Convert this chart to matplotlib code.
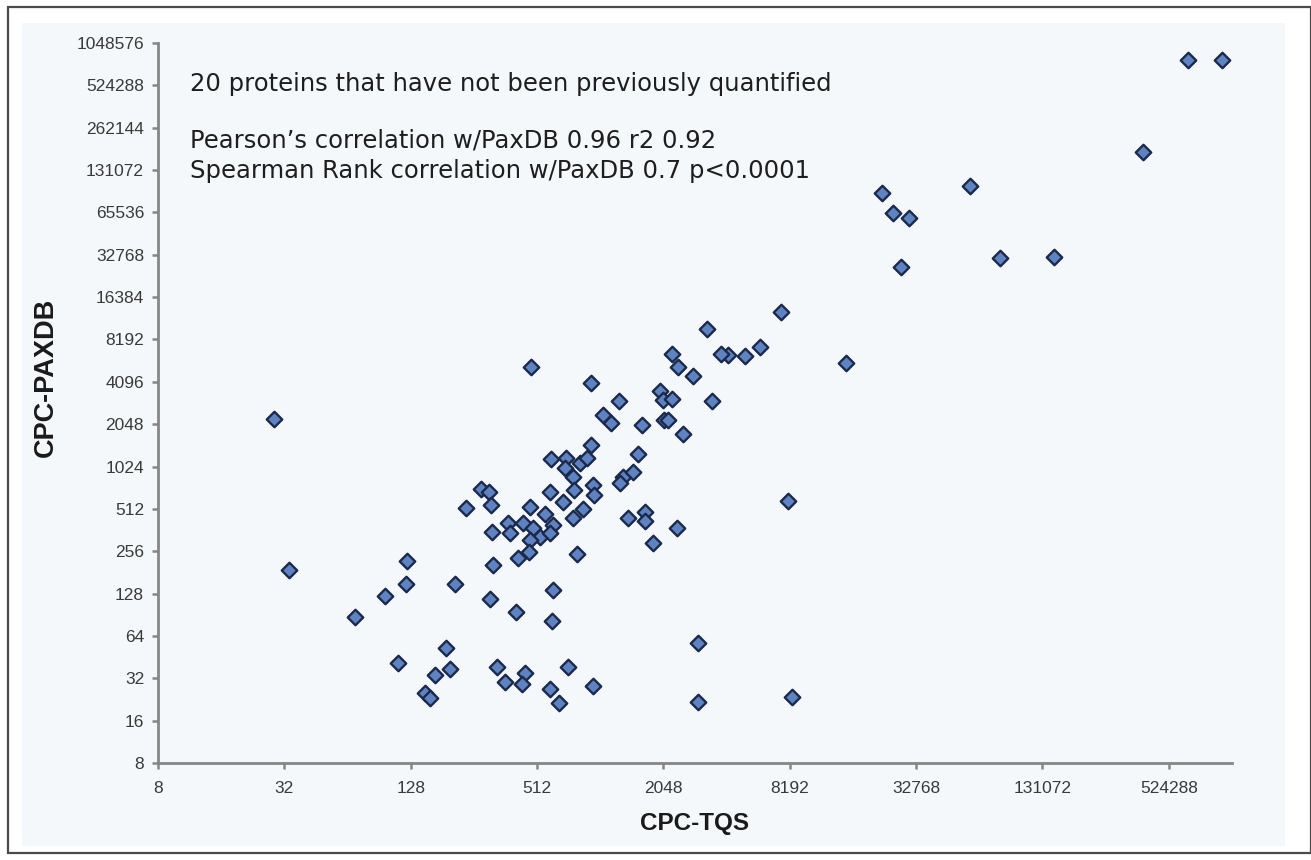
import matplotlib
matplotlib.use("Agg")
import matplotlib.pyplot as plt
from matplotlib.patches import Rectangle


# CPC-TQS (x) and CPC-PAXDB (y), one pair per protein
TQS = [
    650000, 938000, 394500, 59500, 22540, 25360, 30150, 27740, 81850, 148500,
    15180, 7435, 5900, 5010, 4150, 3850, 3300, 2247, 2400, 2830,
    3480, 1965, 2034, 2247, 2060, 2150, 1617, 2534, 1255, 1054,
    1150, 924, 478, 1542, 1314, 1464, 1270, 924, 595, 702,
    694, 819, 884, 758, 766, 944, 955, 276, 302, 308,
    234, 589, 679, 473, 558, 846, 758, 372, 438, 380,
    312, 489, 528, 609, 589, 473, 468, 792, 415, 315,
    1387, 1672, 1672, 2370, 1822, 8010, 609, 305, 406, 602,
    122.8, 121.4, 96.5, 69.4, 208, 33.7, 28.5, 188, 111, 197,
    167, 150, 158, 329, 448, 360, 433, 718, 589, 944,
    650, 2985, 2985, 8380,
]
PAXDB = [
    795000, 795000, 176600, 100700, 90200, 65100, 59900, 26800, 31000, 31660,
    5575, 12850, 7235, 6255, 6350, 6470, 9750, 6470, 5220, 4510,
    2998, 3517, 3041, 3100, 2195, 2195, 2020, 1746, 2998, 2382,
    2090, 4015, 5220, 1260, 863, 936, 783, 1458, 1160, 1177,
    1000, 1085, 1177, 863, 697, 757, 643, 709, 675, 546,
    519, 675, 573, 528, 471, 511, 441, 406, 406, 345,
    351, 375, 323, 393, 345, 308, 253, 245, 229, 204,
    441, 487, 420, 375, 293, 583, 136, 117, 94.7, 81.7,
    218, 150, 123, 87.2, 150, 188, 2230, 52.5, 41.1, 37.3,
    33.8, 25.2, 23.2, 38.5, 34.9, 30.1, 29.1, 38.5, 26.9, 28.2,
    21.4, 57, 21.7, 23.6,
]

X_TICKS = [8, 32, 128, 512, 2048, 8192, 32768, 131072, 524288]
Y_TICKS = [8, 16, 32, 64, 128, 256, 512, 1024, 2048, 4096, 8192, 16384,
           32768, 65536, 131072, 262144, 524288, 1048576]

NOTE_LINES = [
    "20 proteins that have not been previously quantified",
    "Pearson\u2019s correlation w/PaxDB 0.96 r2 0.92",
    "Spearman Rank correlation w/PaxDB 0.7 p<0.0001",
]

W, H = 1311, 860
AXIS_GREY = "#868686"


def main():
    fig = plt.figure(figsize=(W / 100, H / 100), dpi=100)
    fig.patch.set_facecolor("white")

    # light panel and outer frame, kept behind the axes
    fig.patches.append(Rectangle((22 / W, 1 - 846 / H), (1285 - 22) / W, (846 - 23) / H,
                                 transform=fig.transFigure, facecolor="#f4f8fa",
                                 edgecolor="none", zorder=-2))
    fig.patches.append(Rectangle((8 / W, 1 - 853 / H), (1311 - 8) / W, (853 - 7) / H,
                                 transform=fig.transFigure, facecolor="none",
                                 edgecolor="#4a4a4a", linewidth=1.6, zorder=-1))

    ax = fig.add_axes([158 / W, 1 - 763 / H, (1232 - 158) / W, (763 - 43) / H])
    ax.set_facecolor("none")

    ax.scatter(TQS, PAXDB, marker="D", s=62, facecolor="#5f82c0",
               edgecolor="#1b2a4c", linewidth=1.7, zorder=3, clip_on=False)

    ax.set_xscale("log", base=2)
    ax.set_yscale("log", base=2)
    ax.set_xlim(8, 1048576)
    ax.set_ylim(8, 1048576)
    ax.set_xticks(X_TICKS, [str(v) for v in X_TICKS])
    ax.set_yticks(Y_TICKS, [str(v) for v in Y_TICKS])
    ax.minorticks_off()

    for side in ("top", "right"):
        ax.spines[side].set_visible(False)
    for side in ("left", "bottom"):
        ax.spines[side].set_color(AXIS_GREY)
        ax.spines[side].set_linewidth(2.0)

    ax.tick_params(direction="out", length=4, width=1.8, color=AXIS_GREY,
                   labelcolor="#3a3a3a")
    ax.tick_params(axis="y", pad=6)
    ax.tick_params(axis="x", pad=9)
    for lab in ax.get_xticklabels() + ax.get_yticklabels():
        lab.set_fontfamily("Liberation Sans")
        lab.set_fontsize(12.5)

    ax.set_xlabel("CPC-TQS", fontfamily="Liberation Sans", fontweight="bold",
                  fontsize=17.5, color="#1a1a1a")
    ax.set_ylabel("CPC-PAXDB", fontfamily="Liberation Sans", fontweight="bold",
                  fontsize=19.5, color="#1a1a1a")
    ax.xaxis.set_label_coords(0.5, -0.068)
    ax.yaxis.set_label_coords(-0.092, 0.536)

    note_y = [84, 141, 171]
    for line, yp in zip(NOTE_LINES, note_y):
        fig.text(190 / W, 1 - yp / H, line, fontfamily="DejaVu Sans",
                 fontsize=17.5, color="#1e1e1e", va="center", ha="left")

    fig.savefig("out.png", dpi=100, facecolor=fig.get_facecolor())
    plt.close(fig)


if __name__ == "__main__":
    main()
